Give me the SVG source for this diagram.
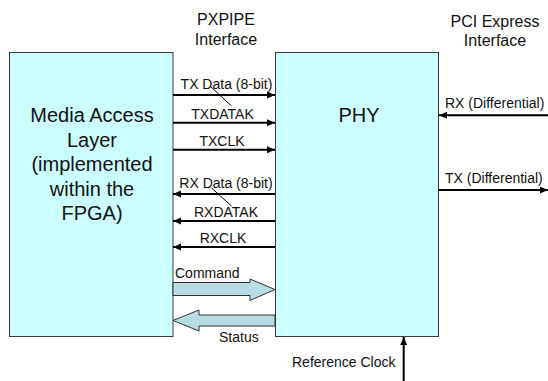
<svg xmlns="http://www.w3.org/2000/svg" width="548" height="381" viewBox="0 0 548 381">
  <style>
    text { font-family: "Liberation Sans", Arial, sans-serif; fill: #111; }
    .hdr { font-size: 16px; text-anchor: middle; }
    .big { font-size: 20px; text-anchor: middle; }
    .lbl { font-size: 14px; }
    .mid { text-anchor: middle; }
    .box { fill: #CCFFFF; stroke: #3a3a3a; stroke-width: 1; }
    .sig { stroke: #000; stroke-width: 2; fill: none; }
    .thin { stroke: #000; stroke-width: 1; fill: none; }
    .blk { fill: #B7DDE2; stroke: #333; stroke-width: 1; }
  </style>
  <defs>
    <marker id="head" markerUnits="userSpaceOnUse" markerWidth="9" markerHeight="8" refX="8" refY="4" orient="auto">
      <path d="M0,0.5 L8,4 L0,7.5 Z" fill="#000"/>
    </marker>
  </defs>
  <rect width="548" height="381" fill="#fff"/>

  <!-- column headings -->
  <text class="hdr" x="226" y="25">PXPIPE</text>
  <text class="hdr" x="226" y="45">Interface</text>
  <text class="hdr" x="495" y="27">PCI Express</text>
  <text class="hdr" x="495" y="46">Interface</text>

  <g id="mac">
    <rect class="box" x="9.5" y="52.5" width="163.5" height="284"/>
    <text class="big" x="92" y="122">Media Access</text>
    <text class="big" x="92" y="146.5">Layer</text>
    <text class="big" x="92" y="171">(implemented</text>
    <text class="big" x="92" y="195.5">within the</text>
    <text class="big" x="92" y="220">FPGA)</text>
  </g>

  <g id="phy">
    <rect class="box" x="275.5" y="52.5" width="163" height="284"/>
    <text class="big" x="359" y="122">PHY</text>
  </g>

  <g id="connectors">
    <!-- MAC to PHY -->
    <line class="sig" x1="173" y1="95" x2="275" y2="95" marker-end="url(#head)"/>
    <line class="thin" x1="210" y1="86" x2="231.5" y2="106"/>
    <line class="sig" x1="173" y1="122.7" x2="275" y2="122.7" marker-end="url(#head)"/>
    <line class="sig" x1="173" y1="149.7" x2="275" y2="149.7" marker-end="url(#head)"/>
    <!-- PHY to MAC -->
    <line class="sig" x1="275" y1="194" x2="173" y2="194" marker-end="url(#head)"/>
    <line class="thin" x1="211.5" y1="188" x2="231.5" y2="206"/>
    <line class="sig" x1="275" y1="221" x2="173" y2="221" marker-end="url(#head)"/>
    <line class="sig" x1="275" y1="247" x2="173" y2="247" marker-end="url(#head)"/>
    <!-- command / status buses -->
    <polygon class="blk" points="173,282.5 250,282.5 250,279 275,289.5 250,300.5 250,295.5 173,295.5"/>
    <polygon class="blk" points="275,315 199,315 199,310 173,320.5 199,331 199,326 275,326"/>
    <!-- serial link -->
    <line class="sig" x1="548" y1="115.3" x2="439" y2="115.3" marker-end="url(#head)"/>
    <line class="sig" x1="439" y1="190" x2="548" y2="190" marker-end="url(#head)"/>
    <!-- reference clock -->
    <line class="sig" x1="403.7" y1="381" x2="403.7" y2="337" marker-end="url(#head)"/>
  </g>

  <!-- signal names -->
  <text class="lbl mid" x="226.5" y="89">TX Data (8-bit)</text>
  <text class="lbl mid" x="222.5" y="119">TXDATAK</text>
  <text class="lbl mid" x="222" y="145.5">TXCLK</text>
  <text class="lbl mid" x="226" y="188">RX Data (8-bit)</text>
  <text class="lbl mid" x="226" y="216.5">RXDATAK</text>
  <text class="lbl mid" x="223" y="242.5">RXCLK</text>
  <text class="lbl" x="175" y="278">Command</text>
  <text class="lbl" x="219" y="342">Status</text>
  <text class="lbl" x="445" y="108">RX (Differential)</text>
  <text class="lbl" x="445" y="183">TX (Differential)</text>
  <text class="lbl" x="292" y="366.5">Reference Clock</text>
</svg>
